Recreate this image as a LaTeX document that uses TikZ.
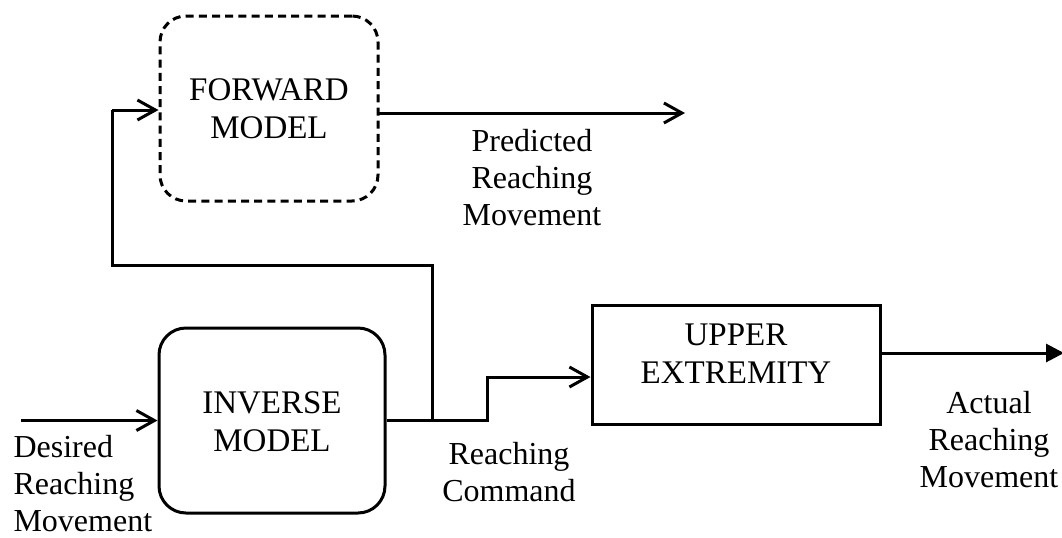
\documentclass[tikz,border=0pt]{standalone}
\usepackage{fontspec}
\setmainfont{Liberation Serif}
\usetikzlibrary{arrows.meta,calc}
\begin{document}
\begin{tikzpicture}[x=0.5pt,y=-0.5pt,
  line width=1.5pt,
  txt/.style={align=center,inner sep=0pt,font=\fontsize{16pt}{18.5pt}\selectfont},
  btxt/.style={txt,font=\fontsize{16.5pt}{19pt}\selectfont},
  blk/.style={draw,inner sep=0pt},
  arr/.style={-{Straight Barb[length=9pt,width=10pt,line width=1.5pt]}},
  farr/.style={-{Triangle[length=9pt,width=9pt]}}]
\useasboundingbox (0,0) rectangle (1062,537);
% boxes
\node[blk,dashed,dash pattern=on 4pt off 2.6pt,rounded corners=13pt,minimum width=109pt,minimum height=92.5pt] (fwd) at (269,108.5) {};
\node[blk,rounded corners=13.5pt,minimum width=113pt,minimum height=92.5pt] (inv) at (272,420.5) {};
\node[blk,minimum width=144pt,minimum height=59.5pt] (upper) at (736,364.5) {};
% box texts
\node[btxt] (fwdt) at (269,109) {FORWARD\\MODEL};
\node[btxt] (invt) at (272,422) {INVERSE\\MODEL};
\node[btxt] (uppt) at (736,354) {UPPER\\EXTREMITY};
% labels
\node[txt] (pred) at (532,178) {Predicted\\Reaching\\Movement};
\node[txt] (cmd) at (509,472) {Reaching\\Command};
\node[txt] (act) at (989,440) {Actual\\Reaching\\Movement};
\node[txt,align=left,anchor=west] (des) at (12,484) {Desired\\Reaching\\Movement};
% coordinates
\coordinate (in0) at (21,420.5);
\coordinate (j) at (432,420.5);
\coordinate (s1) at (487,420.5);
\coordinate (s2) at (487,377);
\coordinate (f1) at (432,265);
\coordinate (f2) at (112,265);
\coordinate (f3) at (112,110);
\coordinate (p0) at (378,113);
\coordinate (p1) at (685,113);
\coordinate (o0) at (880,353);
\coordinate (o1) at (1064,353);
% connectors
\draw[arr] (in0) -- (inv.west);
\draw[arr] (inv.east) -- (s1) -- (s2) -- (s2 -| upper.west);
\draw (j) -- (f1) -- (f2) -- (f3);
\draw[arr] (f3) -- (f3 -| fwd.west);
\draw[arr] (p0) -- (p1);
\draw[farr] (o0) -- (o1);
\end{tikzpicture}
\end{document}
